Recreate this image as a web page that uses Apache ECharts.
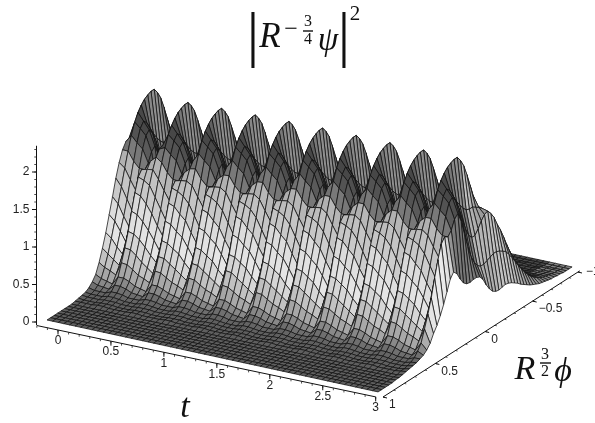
<!DOCTYPE html>
<html>
<head>
<meta charset="utf-8">
<script src="https://cdn.jsdelivr.net/npm/echarts@6/dist/echarts.min.js"></script>
<style>
html,body{margin:0;padding:0;background:#fff}
#main{width:595px;height:423px}
</style>
</head>
<body>
<div id="main"></div>
<script>
// tick labels
var tTicks = [0, 0.5, 1, 1.5, 2, 2.5, 3]
var phiTicks = [1, 0.5, 0, -0.5, -1]
var zTicks = [0, 0.5, 1, 1.5, 2]

// height over phi (phi = 1 ... -1) at six moments of one oscillation
var phase0 = [0,0,0,0,0,0,0,0,.01,.01,.02,.03,.05,.09,.15,.27,.42,.6,.8,1,1.2,1.42,1.62,1.8,1.95,2.05,2.12,2.17,2.2,2.22,2.22,2.15,2.05,1.9,1.73,1.56,1.4,1.27,1.14,1.02,.9,.77,.65,.55,.45,.37,.3,.24,.18,.14,.1,.08,.06,.04,.03,.02,.02,.01,0,0,0]
var phase1 = [0,0,0,0,0,0,0,0,.01,.01,.02,.03,.05,.08,.13,.24,.36,.5,.68,.85,1.05,1.28,1.5,1.72,1.88,1.95,1.9,1.8,1.7,1.62,1.55,1.5,1.48,1.48,1.45,1.42,1.38,1.3,1.2,1.07,.95,.82,.7,.58,.48,.4,.32,.25,.2,.15,.11,.08,.06,.04,.03,.02,.01,.01,0,0,0]
var phase2 = [0,0,0,0,0,0,0,0,.01,.01,.02,.03,.05,.07,.11,.2,.3,.42,.55,.72,.9,1.15,1.42,1.65,1.8,1.85,1.78,1.65,1.48,1.32,1.2,1.14,1.14,1.2,1.28,1.34,1.36,1.3,1.22,1.1,1,.88,.75,.63,.52,.42,.34,.26,.2,.15,.11,.08,.06,.04,.03,.02,.01,.01,0,0,0]
var phase3 = [0,0,0,0,0,0,0,0,.02,.02,.03,.05,.08,.14,.22,.38,.55,.74,.98,1.2,1.38,1.45,1.42,1.48,1.6,1.65,1.52,1.32,1.12,.96,.85,.78,.74,.74,.76,.78,.8,.8,.78,.75,.72,.65,.58,.5,.42,.35,.28,.22,.17,.13,.1,.07,.05,.04,.03,.02,.01,.01,0,0,0]
var phase4 = [0,0,0,0,0,0,0,0,.02,.02,.03,.05,.08,.14,.22,.37,.54,.72,.95,1.17,1.35,1.47,1.55,1.48,1.22,1.08,.95,.85,.78,.73,.7,.68,.66,.58,.5,.42,.37,.34,.33,.33,.33,.32,.3,.26,.22,.18,.14,.12,.1,.08,.06,.05,.04,.03,.02,.01,.01,0,0,0,0]
var phase5 = [0,0,0,0,0,0,0,0,.01,.02,.03,.04,.07,.12,.19,.32,.48,.66,.87,1.08,1.3,1.48,1.62,1.7,1.72,1.68,1.62,1.58,1.55,1.55,1.52,1.45,1.35,1.25,1.15,1.05,.95,.85,.76,.68,.6,.52,.44,.37,.3,.25,.2,.16,.12,.09,.07,.05,.04,.03,.02,.01,.01,0,0,0,0]
var phases = [phase0, phase1, phase2, phase3, phase4, phase5]

// the edge at t = 3
var edgeRow = [0,0,0,0,0,.01,.01,.02,.03,.04,.05,.06,.08,.1,.14,.2,.3,.38,.48,.6,.74,.88,.95,.9,.8,.72,.68,.67,.68,.68,.66,.6,.5,.42,.36,.33,.32,.33,.34,.33,.31,.28,.25,.21,.18,.15,.12,.1,.08,.06,.05,.04,.03,.02,.02,.01,.01,0,0,0,0]

// top of each of the ten back peaks
var ridgeHeights = [2.22, 2.14, 2.16, 2.17, 2.18, 2.19, 2.19, 2.19, 2.19, 2.19]

// the grey bands run along t, one level per phi column
var greyBands = [95,95,95,95,95,95,95,95,95,95,96,100,110,135,165,190,210,222,215,195,188,175,115,78,66,62,78,92,100,102,102,100,100,95,92,95,105,110,112,112,110,108,105,100,95,90,88,85,82,80,78,76,75,75,75,75,75,75,75,75,75]

var tMin = -0.1
var tMax = 3
var tRows = 60
var phiCols = 61

var height = function(k, i) {
    if (k == tRows - 1) return edgeRow[i]
    var ph = (k + 5) % 6
    var ridge = Math.floor((k + 5) / 6) - 1
    if (ridge < 0) ridge = 0
    if (ridge > 9) ridge = 9
    return phases[ph][i] * ridgeHeights[ridge] / 2.22
}

// slight perspective along phi
var warp = function(u) {
    return 1.1 * u / (1 + 0.1 * u)
}

var project = function(k, i) {
    var T = k * (tMax - tMin) / (tRows - 1)
    var up = warp(i / (phiCols - 1))
    var z = height(k, i)
    return [47 + T * 106.8 + 194 * up, 320 + T * 23.2 - 125 * up - 75 * z]
}

// grey level of a cell: the band, a bit lighter where the cell faces towards t = 3
var shade = function(k, i) {
    var dz = (height(k + 1, i) + height(k + 1, i + 1) - height(k, i) - height(k, i + 1)) / 2
    var v = greyBands[i] - dz * (dz < 0 ? 65 : 25)
    if (k >= tRows - 5 && i > 30) v += 55
    v = Math.round(Math.max(50, Math.min(235, v)))
    return 'rgb(' + v + ',' + v + ',' + v + ')'
}

// back to front
var cells = []
for (var i = phiCols - 2; i >= 0; i--) {
    for (var k = 0; k < tRows - 1; k++) {
        cells.push([k, i])
    }
}

var renderCell = function(params, api) {
    var k = api.value(0)
    var i = api.value(1)
    var pts = [project(k, i), project(k + 1, i), project(k + 1, i + 1), project(k, i + 1)].map(function(p) {
        return api.coord(p)
    })
    return {
        type: 'polygon',
        shape: {points: pts},
        style: {fill: shade(k, i), stroke: '#111', lineWidth: 0.75}
    }
}

var tPoint = function(t) {
    return [58 + 105.9 * t, 330 + 22.3 * t]
}
var phiPoint = function(p) {
    var up = warp((1 - p) / 2)
    return [383 + 195 * up, 397 - 125 * up]
}
var zPoint = function(z) {
    return [36.5, 322 - 75 * z]
}

var minors = function(from, to, step) {
    var res = []
    var n = Math.round((to - from) / step)
    for (var j = 0; j <= n; j++) {
        res.push(from + j * step)
    }
    return res
}

var axisSeries = function(ticks, minorTicks, point, from, to, vec, labelStyle) {
    return {
        type: 'custom',
        coordinateSystem: 'cartesian2d',
        silent: true,
        animation: false,
        data: [[0]],
        z: 5,
        renderItem: function(params, api) {
            var children = []
            var a = api.coord(point(from))
            var b = api.coord(point(to))
            children.push({type: 'line', shape: {x1: a[0], y1: a[1], x2: b[0], y2: b[1]}, style: {stroke: '#111', lineWidth: 1}})
            minorTicks.forEach(function(v) {
                var p = api.coord(point(v))
                children.push({type: 'line', shape: {x1: p[0], y1: p[1], x2: p[0] + vec[0] * 0.5, y2: p[1] + vec[1] * 0.5}, style: {stroke: '#222', lineWidth: 0.8}})
            })
            ticks.forEach(function(v) {
                var p = api.coord(point(v))
                children.push({type: 'line', shape: {x1: p[0], y1: p[1], x2: p[0] + vec[0], y2: p[1] + vec[1]}, style: {stroke: '#111', lineWidth: 1}})
                var off = labelStyle.offset(v)
                children.push({
                    type: 'text',
                    x: p[0] + off[0],
                    y: p[1] + off[1],
                    style: {
                        text: String(v).replace('-', '\u2212'),
                        fill: '#222',
                        font: '12px "Liberation Sans"',
                        textAlign: labelStyle.align,
                        textVerticalAlign: 'middle'
                    }
                })
            })
            return {type: 'group', children: children}
        }
    }
}

var mathText = function(text, x, y, size, italic) {
    return {
        type: 'text',
        x: x,
        y: y,
        silent: true,
        style: {
            text: text,
            fill: '#111',
            font: (italic ? 'italic ' : '') + size + 'px "Liberation Serif"',
            textAlign: 'center',
            textVerticalAlign: 'middle'
        }
    }
}
var fracBar = function(x1, x2, y) {
    return {type: 'line', silent: true, shape: {x1: x1, y1: y, x2: x2, y2: y}, style: {stroke: '#111', lineWidth: 1.4}}
}

var mychart = echarts.init(document.getElementById('main'), null, {renderer: 'canvas'})
mychart.setOption({
    animation: false,
    backgroundColor: '#fff',
    grid: {left: 0, right: 0, top: 0, bottom: 0},
    xAxis: {type: 'value', min: 0, max: 595, show: false},
    yAxis: {type: 'value', min: 0, max: 423, inverse: true, show: false},
    graphic: {elements: [
        mathText('|', 253, 39, 62, false),
        mathText('R', 270, 38, 35, true),
        mathText('\u2212', 291, 30, 24, false),
        mathText('3', 308, 22, 16, false),
        fracBar(303, 313, 31),
        mathText('4', 308, 40, 16, false),
        mathText('\u03c8', 328, 41, 33, true),
        mathText('|', 344, 39, 62, false),
        mathText('2', 355, 14, 21, false),
        mathText('t', 185, 408, 34, true),
        mathText('R', 525, 370, 34, true),
        mathText('3', 545, 355, 16, false),
        fracBar(540, 551, 363),
        mathText('2', 545, 372, 16, false),
        mathText('\u03d5', 563, 372, 34, true)
    ]},
    series: [
        {
            type: 'custom',
            coordinateSystem: 'cartesian2d',
            silent: true,
            animation: false,
            progressive: 0,
            data: cells,
            z: 3,
            renderItem: renderCell
        },
        axisSeries(zTicks, minors(0, 2.3, 0.1), zPoint, -0.04, 2.35, [-4.5, 0], {align: 'right', offset: function() { return [-7, 0] }}),
        axisSeries(tTicks, minors(-0.2, 3, 0.1), tPoint, -0.2, 3, [0, 4.5], {align: 'center', offset: function() { return [0, 11] }}),
        axisSeries(phiTicks, minors(-1, 1, 0.1), phiPoint, 1, -1.02, [4, 1], {align: 'left', offset: function(v) { return v == -1 ? [8, 0] : [6, 8] }})
    ]
})
</script>
</body>
</html>
